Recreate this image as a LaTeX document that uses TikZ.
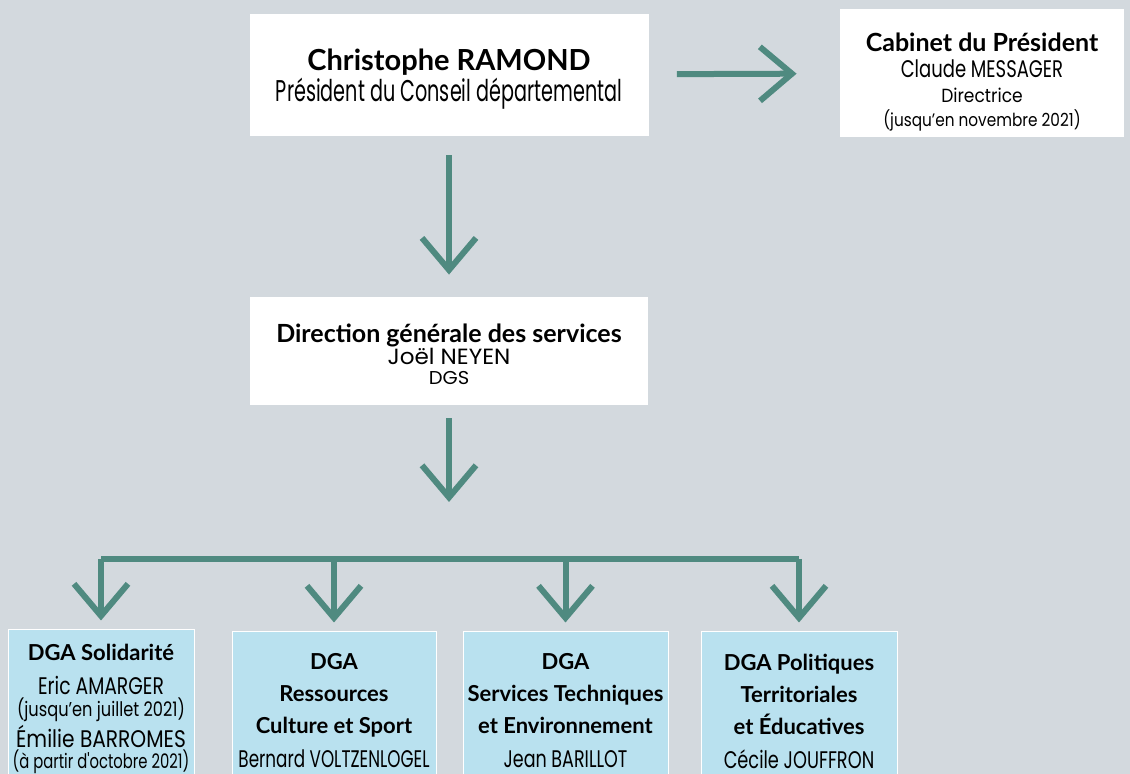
\documentclass[tikz,border=0pt]{standalone}
\usepackage{fontspec}
\usetikzlibrary{arrows.meta}
\newfontfamily\headfont{Lato}
\newfontfamily\condfont{Poppins}
\definecolor{fondgris}{RGB}{211,217,222}
\definecolor{vertfleche}{RGB}{79,138,128}
\definecolor{bleudga}{RGB}{185,225,239}
\newcommand{\titre}[2]{{\headfont\bfseries\fontsize{#1}{#1}\selectfont #2}}
\newcommand{\nom}[3]{{\condfont\fontsize{#1}{#1}\selectfont\addfontfeatures{FakeStretch=#2}#3}}

\begin{document}
\begin{tikzpicture}[x=0.5pt,y=-0.5pt,
  boite/.style={fill=white,align=center,inner sep=0pt},
  dga/.style={fill=bleudga,draw=white,line width=0.5pt,align=center,inner sep=0pt,minimum height=79pt},
  fleche/.style={draw=vertfleche,line width=3pt,-{Straight Barb[length=16pt,width=27pt]}}]
\fill[fondgris] (0,0) rectangle (1130,774);
\useasboundingbox (0,0) rectangle (1130,774);

\node[boite,minimum width=199.5pt,minimum height=61pt,font=\fontsize{10}{15.5}\selectfont] (pres) at (449,75)
  {\rule{0pt}{14.7pt}\titre{14.5}{Christophe RAMOND}\\\nom{15}{0.64}{Président du Conseil départemental}};
\node[boite,minimum width=142pt,minimum height=64pt,font=\fontsize{10}{12.75}\selectfont] (cab) at (982,73)
  {\rule{0pt}{18.8pt}\titre{12.5}{Cabinet du Président}\\\nom{12}{0.75}{Claude MESSAGER}\\\nom{9.5}{0.9}{Directrice}\\[-0.75pt]\nom{9}{0.85}{(jusqu’en novembre 2021)}};
\node[boite,minimum width=199pt,minimum height=54pt,font=\fontsize{10}{11}\selectfont] (dgs) at (449,351)
  {\rule{0pt}{12.4pt}\titre{12.5}{Direction générale des services}\\\nom{11}{1.05}{Joël NEYEN}\\[-1pt]\nom{9.3}{1.05}{DGS}};

\node[dga,minimum width=93pt,font=\fontsize{10}{12}\selectfont] (dga1) at (101,709)
  {\titre{11}{DGA Solidarité}\\[5pt]\nom{12}{0.78}{Eric AMARGER}\\[-1pt]\nom{10}{0.81}{(jusqu’en juillet 2021)}\\[0.5pt]\nom{12}{0.84}{Émilie BARROMES}\\[-1.5pt]\nom{10}{0.74}{(à partir d'octobre 2021)}};
\node[dga,minimum width=102pt,font=\fontsize{10}{16}\selectfont] (dga2) at (334,711)
  {\titre{11}{DGA}\\\titre{11}{Ressources}\\\titre{11}{Culture et Sport}\\[1pt]\nom{12}{0.7}{Bernard VOLTZENLOGEL}};
\node[dga,minimum width=102.5pt,font=\fontsize{10}{16}\selectfont] (dga3) at (565.5,711)
  {\titre{11}{DGA}\\\titre{11}{Services Techniques}\\\titre{11}{et Environnement}\\[1pt]\nom{12}{0.73}{Jean BARILLOT}};
\node[dga,minimum width=98pt,font=\fontsize{10}{16}\selectfont] (dga4) at (799,711)
  {\titre{11}{DGA Politiques}\\\titre{11}{Territoriales}\\\titre{11}{et Éducatives}\\[1pt]\nom{12}{0.74}{Cécile JOUFFRON}};

\coordinate (sortie) at (449,502);
\coordinate (barre) at (449,559);

\draw[fleche,shorten <=14pt,shorten >=21.5pt] (pres) -- (cab);
\draw[fleche,shorten <=9.5pt,shorten >=11pt] (pres) -- (dgs);
\draw[fleche,shorten <=6.5pt] (dgs) -- (sortie);
\draw[vertfleche,line width=3pt] (dga1.north |- barre) -- (dga4.north |- barre);
\foreach \d in {dga1,dga2,dga3,dga4}
  \draw[fleche,shorten >=4.5pt] (\d.north |- barre) -- (\d.north);
\end{tikzpicture}
\end{document}
